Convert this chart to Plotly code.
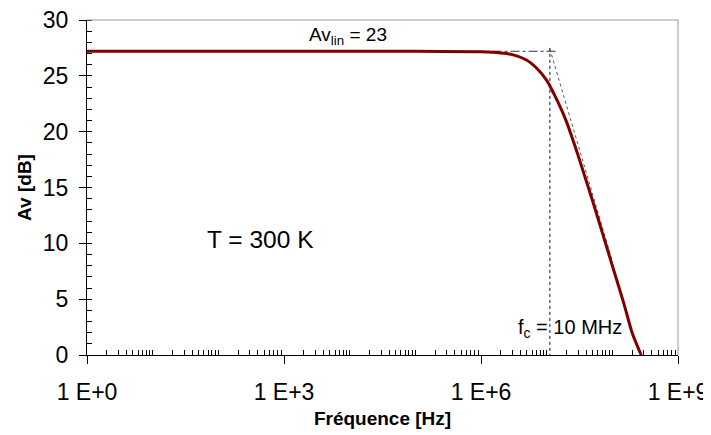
import plotly.graph_objects as go

# ---- data ----
freq_hz = [1, 10, 100, 1e3, 1e4, 1e5, 1e6, 2e6, 3e6, 5e6, 7e6, 1e7, 1.5e7, 2e7,
           3e7, 5e7, 7e7, 1e8, 1.5e8, 2e8, 2.75e8]
gain_db = [27.2, 27.2, 27.2, 27.2, 27.2, 27.2, 27.15, 27.05, 26.9, 26.4, 25.7, 24.6,
           22.6, 20.9, 17.9, 13.8, 11.0, 8.0, 4.6, 2.0, 0.0]

# reference construction lines
flat_x = [3.4e4, 1.46e7]
flat_y = [27.2, 27.2]
fc_x = [1.12e7, 1.12e7]
fc_y = [27.5, 0]
asym_x = [1.12e7, 1.0e8]
asym_y = [27.4, 8.4]

x_tickvals = [1, 1e3, 1e6, 1e9]
x_ticktext = ["1 E+0", "1 E+3", "1 E+6", "1 E+9"]
y_tickvals = [0, 5, 10, 15, 20, 25, 30]

minor_x = [m * 10 ** d for d in range(0, 9) for m in range(1, 10)
           if not (m == 1 and d % 3 == 0)]

FONT = "Liberation Sans, Arial, sans-serif"

fig = go.Figure()
fig.add_trace(go.Scatter(x=flat_x, y=flat_y, mode="lines",
                         line=dict(color="#333333", width=1, dash="dashdot"),
                         hoverinfo="skip"))
fig.add_trace(go.Scatter(x=asym_x, y=asym_y, mode="lines",
                         line=dict(color="#555555", width=1, dash="dot"),
                         hoverinfo="skip"))
fig.add_trace(go.Scatter(x=fc_x, y=fc_y, mode="lines",
                         line=dict(color="#111111", width=1, dash="3px,3px"),
                         hoverinfo="skip"))
fig.add_trace(go.Scatter(x=freq_hz, y=gain_db, mode="lines",
                         line=dict(color="#800000", width=3, shape="spline", smoothing=0.6)))

# the page body adds an 8px offset, so the figure is sized to fit the window
fig.update_layout(
    width=703, height=427,
    margin=dict(l=79, r=33, t=12, b=80, autoexpand=False),
    paper_bgcolor="white", plot_bgcolor="white",
    showlegend=False,
    font=dict(family=FONT, color="black", size=23),
)
fig.update_xaxes(
    type="log", range=[0, 9], automargin=False,
    tickmode="array", tickvals=x_tickvals, ticktext=x_ticktext,
    ticks="outside", ticklen=8, tickcolor="black", tickwidth=1,
    tickfont=dict(size=23, family=FONT), ticklabelstandoff=8,
    ticklabeloverflow="allow",
    showline=True, linecolor="black", linewidth=1,
    showgrid=False, zeroline=False,
    minor=dict(tickmode="array", tickvals=minor_x, ticks="inside", ticklen=5,
               tickcolor="black", tickwidth=1, showgrid=False),
    title=dict(text="<b>Fréquence [Hz]</b>", font=dict(size=19, family=FONT), standoff=8),
)
fig.update_yaxes(
    range=[0, 30], automargin=False,
    tickmode="array", tickvals=y_tickvals,
    ticks="outside", ticklen=7, tickcolor="black", tickwidth=1,
    tickfont=dict(size=23, family=FONT), ticklabelstandoff=6,
    ticklabeloverflow="allow",
    showline=True, linecolor="black", linewidth=1,
    showgrid=False, zeroline=False,
    minor=dict(dtick=1, ticks="inside", ticklen=5, tickcolor="black", tickwidth=1,
               showgrid=False),
    title=dict(text="<b>Av [dB]</b>", font=dict(size=19, family=FONT), standoff=6),
)

# gray plot-area border (top and right)
fig.add_shape(type="line", xref="paper", yref="paper", x0=0, x1=1, y0=1, y1=1,
              line=dict(color="#999999", width=1))
fig.add_shape(type="line", xref="paper", yref="paper", x0=1, x1=1, y0=0, y1=1,
              line=dict(color="#999999", width=1))

fig.add_annotation(x=3.98, y=28.6, xref="x", yref="y", showarrow=False,
                   text="Av<sub>lin</sub> = 23", font=dict(size=19, family=FONT))
fig.add_annotation(x=2.64, y=10.3, xref="x", yref="y", showarrow=False,
                   text="T = 300 K", font=dict(size=24.5, family=FONT))
fig.add_annotation(x=7.36, y=2.4, xref="x", yref="y", showarrow=False,
                   text="f<sub>c</sub> = 10 MHz", font=dict(size=20, family=FONT))

fig.write_html("out.html")
